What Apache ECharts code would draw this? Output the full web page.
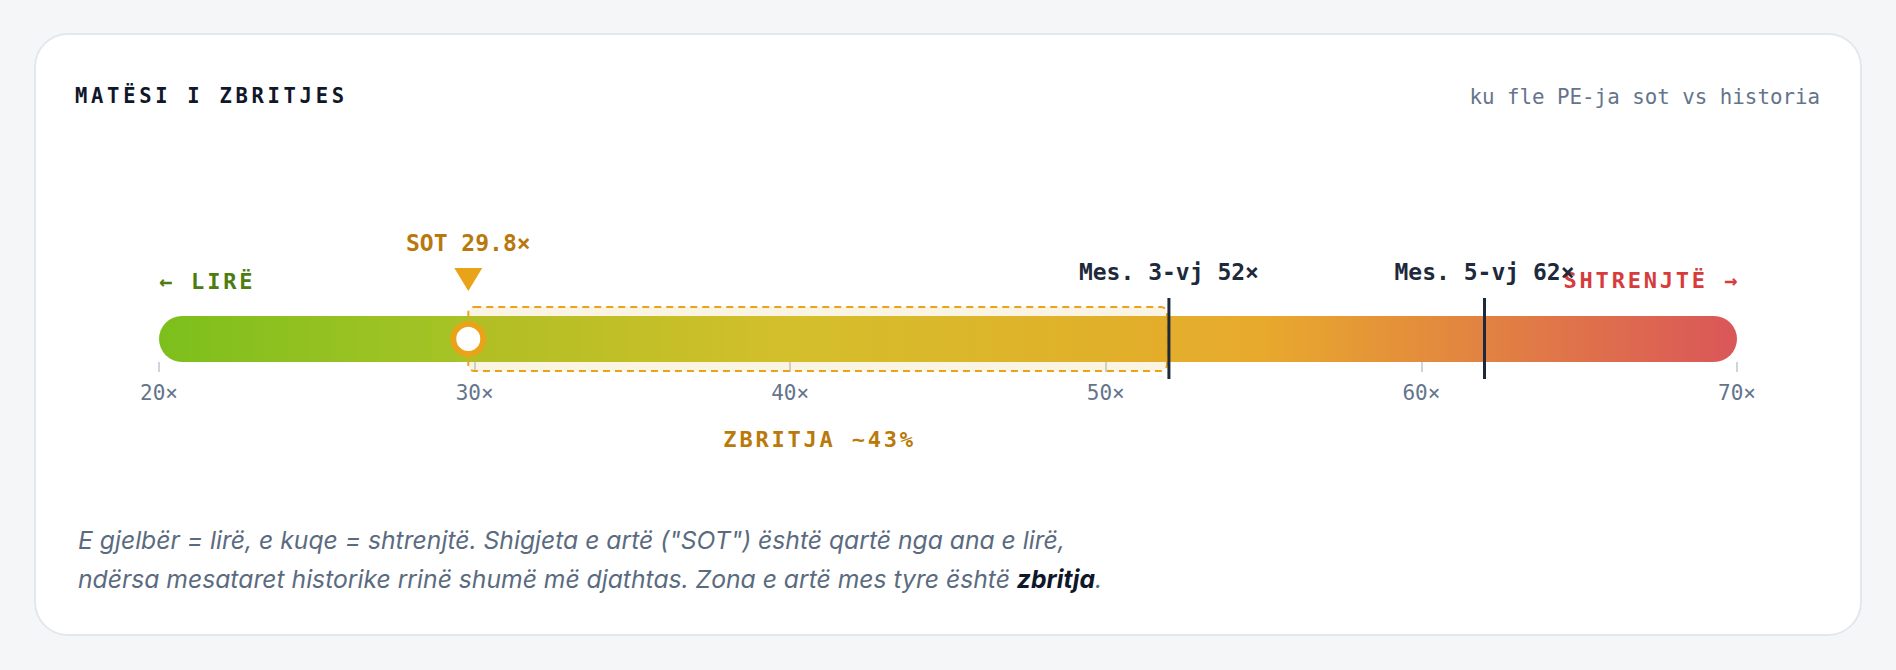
<!DOCTYPE html>
<html>
<head>
<meta charset="utf-8">
<title>Matësi i zbritjes</title>
<script src="https://cdn.jsdelivr.net/npm/echarts@6.0.0/dist/echarts.min.js"></script>
<style>
    html, body {
        margin: 0;
        padding: 0;
        width: 1896px;
        height: 670px;
        background: #f5f6f8;
        overflow: hidden;
    }
    .card {
        position: absolute;
        left: 34px;
        top: 33px;
        width: 1824px;
        height: 599px;
        background: #ffffff;
        border: 2px solid #e3e7ee;
        border-radius: 34px;
    }
    .title {
        position: absolute;
        left: 75px;
        top: 84px;
        font: bold 20.5px 'DejaVu Sans Mono', monospace;
        line-height: 24px;
        letter-spacing: 3.7px;
        color: #0f172a;
    }
    .subtitle {
        position: absolute;
        right: 76px;
        top: 85px;
        font: 20.8px 'DejaVu Sans Mono', monospace;
        line-height: 24px;
        color: #64748b;
    }
    .note {
        position: absolute;
        left: 78px;
        top: 521px;
        font: italic 24.7px Inter, 'Noto Sans', sans-serif;
        line-height: 39px;
        color: #5b6b7f;
    }
    .note b {
        color: #0f172a;
        font-weight: 700;
    }
    #chart {
        position: absolute;
        left: 0;
        top: 0;
        width: 1896px;
        height: 670px;
    }
    /* the canvas text api has no letter spacing, svg text does */
    #chart text[style*="spaced"] {
        letter-spacing: 2.8px;
    }
</style>
</head>
<body>
<div class="card"></div>
<div class="title">MATËSI I ZBRITJES</div>
<div class="subtitle">ku fle PE-ja sot vs historia</div>
<div class="note">E gjelbër = lirë, e kuqe = shtrenjtë. Shigjeta e artë ("SOT") është qartë nga ana e lirë,<br>ndërsa mesataret historike rrinë shumë më djathtas. Zona e artë mes tyre është <b>zbritja</b>.</div>
<div id="chart"></div>
<script>
// shkalla e PE-se
var scaleTicks = [20, 30, 40, 50, 60, 70];
var endLabels = ['← LIRË', 'SHTRENJTË →'];

// PE sot
var todayLabel = 'SOT';
var todayValue = 29.8;

// mesataret historike
var avgNames = ['Mes. 3-vj', 'Mes. 5-vj'];
var avgValues = [52, 62];

var discountLabel = 'ZBRITJA';

var MONO = "'DejaVu Sans Mono', monospace";
var MONO_SPACED = "spaced, 'DejaVu Sans Mono', monospace";
var GOLD = '#e9a319';

var chart = echarts.init(document.getElementById('chart'), null, { renderer: 'svg' });

var scaleMin = scaleTicks[0];
var scaleMax = scaleTicks[scaleTicks.length - 1];
var discount = Math.round((1 - todayValue / avgValues[0]) * 100);

var option = {
    animation: false,
    grid: {
        left: 159,
        right: 159,
        top: 316,
        height: 46
    },
    xAxis: {
        type: 'value',
        min: scaleMin,
        max: scaleMax,
        interval: scaleTicks[1] - scaleTicks[0],
        axisLine: { show: false },
        splitLine: { show: false },
        axisTick: {
            show: true,
            length: 10,
            lineStyle: { color: '#cbd5e1', width: 2 }
        },
        axisLabel: {
            margin: 20,
            color: '#64748b',
            fontSize: 21,
            fontFamily: MONO,
            formatter: '{value}×'
        }
    },
    yAxis: {
        type: 'category',
        data: ['PE'],
        show: false
    },
    series: [
        // shiriti me gradient
        {
            type: 'custom',
            name: 'track',
            z: 1,
            data: [[scaleMin, scaleMax, 0]],
            encode: { x: [0, 1], y: 2 },
            renderItem: function(params, api) {
                var a = api.coord([api.value(0), api.value(2)]);
                var b = api.coord([api.value(1), api.value(2)]);
                var h = api.size([0, 1])[1];
                return {
                    type: 'group',
                    children: [{
                            type: 'rect',
                            shape: { x: a[0], y: a[1] - h / 2, width: b[0] - a[0], height: h, r: h / 2 },
                            style: {
                                fill: new echarts.graphic.LinearGradient(0, 0, 1, 0, [
                                    { offset: 0, color: '#7cbf1c' },
                                    { offset: 0.2, color: '#a9c326' },
                                    { offset: 0.4, color: '#d1c32e' },
                                    { offset: 0.7, color: '#e8a92d' },
                                    { offset: 1, color: '#da5659' }
                                ])
                            }
                        },
                        {
                            type: 'text',
                            x: a[0],
                            y: a[1] - 58,
                            style: {
                                text: endLabels[0],
                                fill: '#4d7c0f',
                                font: 'bold 22px ' + MONO_SPACED,
                                align: 'left',
                                verticalAlign: 'middle'
                            }
                        },
                        {
                            type: 'text',
                            x: b[0] + 3,
                            y: a[1] - 59,
                            style: {
                                text: endLabels[1],
                                fill: '#d63c3c',
                                font: 'bold 22px ' + MONO_SPACED,
                                align: 'right',
                                verticalAlign: 'middle'
                            }
                        }
                    ]
                };
            }
        },
        // zona e zbritjes
        {
            type: 'custom',
            name: 'zone',
            z: 2,
            data: [[todayValue, avgValues[0], 0]],
            encode: { x: [0, 1], y: 2 },
            renderItem: function(params, api) {
                var a = api.coord([api.value(0), api.value(2)]);
                var b = api.coord([api.value(1), api.value(2)]);
                var h = api.size([0, 1])[1] + 18;
                return {
                    type: 'group',
                    children: [{
                            type: 'rect',
                            shape: { x: a[0], y: a[1] - h / 2, width: b[0] - a[0] - 2, height: h, r: 6 },
                            style: {
                                fill: 'rgba(233,163,25,0.12)',
                                stroke: GOLD,
                                lineWidth: 2,
                                lineDash: [7, 5]
                            }
                        },
                        {
                            type: 'text',
                            x: (a[0] + b[0]) / 2 + 1,
                            y: a[1] + 100,
                            style: {
                                text: discountLabel + ' ~' + discount + '%',
                                fill: '#b97a0a',
                                font: 'bold 22px ' + MONO_SPACED,
                                align: 'center',
                                verticalAlign: 'middle'
                            }
                        }
                    ]
                };
            }
        },
        // vijat e mesatareve
        {
            type: 'custom',
            name: 'averages',
            z: 3,
            data: avgValues.map(function(v, i) { return [v, 0, i]; }),
            encode: { x: 0, y: 1 },
            renderItem: function(params, api) {
                var p = api.coord([api.value(0), api.value(1)]);
                var i = api.value(2);
                return {
                    type: 'group',
                    children: [{
                            type: 'line',
                            shape: { x1: p[0], y1: p[1] - 41, x2: p[0], y2: p[1] + 40 },
                            style: { stroke: '#1e293b', lineWidth: 3 }
                        },
                        {
                            type: 'text',
                            x: p[0],
                            y: p[1] - 67,
                            style: {
                                text: avgNames[i] + ' ' + avgValues[i] + '×',
                                fill: '#1e293b',
                                font: 'bold 23px ' + MONO,
                                align: 'center',
                                verticalAlign: 'middle'
                            }
                        }
                    ]
                };
            }
        },
        // PE sot
        {
            type: 'custom',
            name: 'today',
            z: 4,
            data: [[todayValue, 0]],
            encode: { x: 0, y: 1 },
            renderItem: function(params, api) {
                var p = api.coord([api.value(0), api.value(1)]);
                var x = p[0], c = p[1];
                return {
                    type: 'group',
                    children: [{
                            type: 'polygon',
                            shape: { points: [[x - 14, c - 71], [x + 14, c - 71], [x, c - 48]] },
                            style: { fill: GOLD }
                        },
                        {
                            type: 'text',
                            x: x,
                            y: c - 96,
                            style: {
                                text: todayLabel + ' ' + todayValue + '×',
                                fill: '#b8780c',
                                font: 'bold 23px ' + MONO,
                                align: 'center',
                                verticalAlign: 'middle'
                            }
                        },
                        {
                            type: 'circle',
                            shape: { cx: x, cy: c, r: 15 },
                            style: { fill: '#ffffff', stroke: GOLD, lineWidth: 6 }
                        }
                    ]
                };
            }
        }
    ]
};

chart.setOption(option);
</script>
</body>
</html>
